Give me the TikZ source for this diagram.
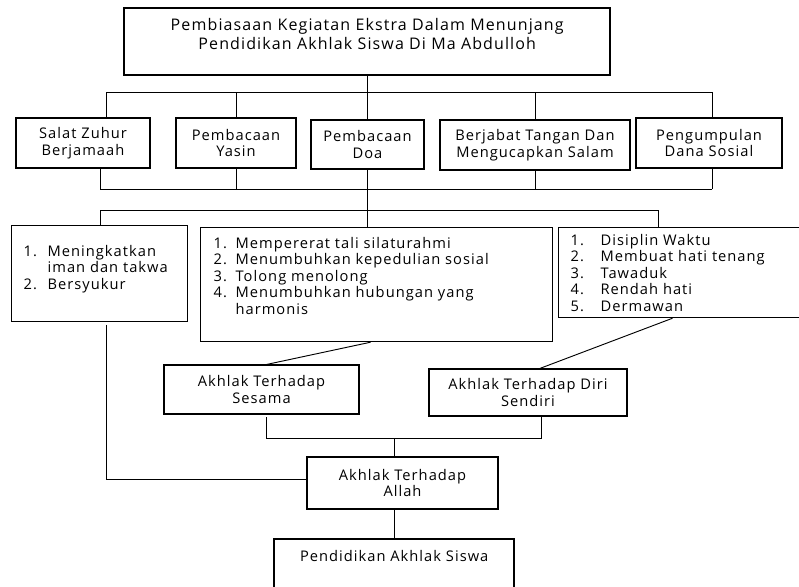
\documentclass[tikz,border=0pt]{standalone}
\usepackage{fontspec}
\setmainfont{Open Sans}[LetterSpace=7]
\newcommand{\isikotak}[4]{\parbox[c][#2][t]{#1}{\vspace*{#3}#4}}

\begin{document}
\begin{tikzpicture}[x=0.75pt,y=-0.75pt,line width=0.7pt,
  kotak/.style={draw,line width=0.9pt,inner sep=0pt,align=center,font=\fontsize{11pt}{12.4pt}\selectfont},
  tebal/.style={kotak,line width=1.8pt}]
\useasboundingbox (0,0) rectangle (799,586);

% judul
\draw (123,7) node[tebal,anchor=north west,font=\fontsize{12pt}{14.4pt}\selectfont] (judul) {\isikotak{364.5pt}{50.25pt}{6.7pt}{\centering\strut Pembiasaan Kegiatan Ekstra Dalam Menunjang\\ Pendidikan Akhlak Siswa Di Ma Abdulloh}};

% kegiatan
\draw (83,143) node[kotak,minimum width=100.5pt,minimum height=37.5pt] (salat) {Salat Zuhur\\Berjamaah};
\draw (236,143) node[kotak,minimum width=90pt,minimum height=37.5pt] (yasin) {Pembacaan\\Yasin};
\draw (367.5,144.5) node[kotak,minimum width=84.75pt,minimum height=36.75pt] (doa) {Pembacaan\\Doa};
\draw (535,145) node[kotak,minimum width=142.5pt,minimum height=37.5pt] (berjabat) {Berjabat Tangan Dan\\Mengucapkan Salam};
\draw (709,143) node[kotak,minimum width=109.5pt,minimum height=37.5pt] (dana) {Pengumpulan\\Dana Sosial};

% nilai
\draw (11,225) node[kotak,anchor=north west] (ibadah) {\isikotak{132pt}{72pt}{14.2pt}{\begin{tabular}{@{\hspace{9pt}}p{18pt}@{}l@{}}
1. & Meningkatkan\\ & iman dan takwa\\ 2. & Bersyukur\end{tabular}}};
\draw (200,227) node[kotak,anchor=north west] (sosial) {\isikotak{264pt}{85.5pt}{6.7pt}{\begin{tabular}{@{\hspace{9.75pt}}p{16.5pt}@{}l@{}}
1. & Mempererat tali silaturahmi\\ 2. & Menumbuhkan kepedulian sosial\\ 3. & Tolong menolong\\
4. & Menumbuhkan hubungan yang\\ & harmonis\end{tabular}}};
\draw (558,227) node[kotak,anchor=north west] (pribadi) {\isikotak{183.75pt}{67.5pt}{4.4pt}{\begin{tabular}{@{\hspace{9pt}}p{22.5pt}@{}l@{}}
1. & Disiplin Waktu\\ 2. & Membuat hati tenang\\ 3. & Tawaduk\\ 4. & Rendah hati\\ 5. & Dermawan\end{tabular}}};

% akhlak
\draw (261.5,389.5) node[kotak,minimum width=146.25pt,minimum height=36.75pt] (sesama) {Akhlak Terhadap\\Sesama};
\draw (528,392.5) node[kotak,minimum width=148.5pt,minimum height=35.25pt] (diri) {Akhlak Terhadap Diri\\Sendiri};
\draw (402.5,483) node[kotak,minimum width=143.25pt,minimum height=39pt] (allah) {Akhlak Terhadap\\Allah};
\draw (273,538) node[tebal,anchor=north west] (siswa) {\isikotak{180pt}{46.5pt}{8.2pt}{\centering\strut Pendidikan Akhlak Siswa}};

\coordinate (bus1w) at (106,92);
\coordinate (bus1e) at (712,92);
\coordinate (bus2w) at (100,189);
\coordinate (bus2e) at (712,189);
\coordinate (bus3w) at (100,210);
\coordinate (bus3e) at (658,210);
\coordinate (kiri) at (106,479);
\coordinate (bus4w) at (266,438);
\coordinate (bus4e) at (541,438);
\coordinate (tengah) at (394,438);

\draw (judul.south) -- (judul.south |- bus1w);
\draw (bus1w) -- (bus1e);
\draw (bus1w) -- (bus1w |- salat.north);
\draw (yasin.north) -- (yasin.north |- bus1w);
\draw (doa.north) -- (doa.north |- bus1w);
\draw (berjabat.north) -- (berjabat.north |- bus1w);
\draw (bus1e) -- (bus1e |- dana.north);

\draw (bus2w) -- (bus2e);
\draw (bus2w) -- (bus2w |- salat.south);
\draw (yasin.south) -- (yasin.south |- bus2w);
\draw (doa.south) -- (doa.south |- sosial.north);
\draw (berjabat.south) -- (berjabat.south |- bus2w);
\draw (bus2e) -- (bus2e |- dana.south);

\draw (bus3w) -- (bus3e);
\draw (bus3w) -- (bus3w |- ibadah.north);
\draw (bus3e) -- (bus3e |- pribadi.north);

\draw[shorten <=2pt] (ibadah.south -| kiri) -- (kiri) -- (allah.west |- kiri);
\draw ([xshift=-4.5pt]sosial.south) -- ([xshift=4pt]sesama.north);
\draw ([xshift=-6.4pt]pribadi.south) -- ([xshift=9pt]diri.north);

\draw[shorten <=2pt] (bus4w |- sesama.south) -- (bus4w) -- (bus4e) -- (bus4e |- diri.south);
\draw (tengah) -- (tengah |- allah.north);
\draw (allah.south -| tengah) -- (tengah |- siswa.north);

\end{tikzpicture}
\end{document}
